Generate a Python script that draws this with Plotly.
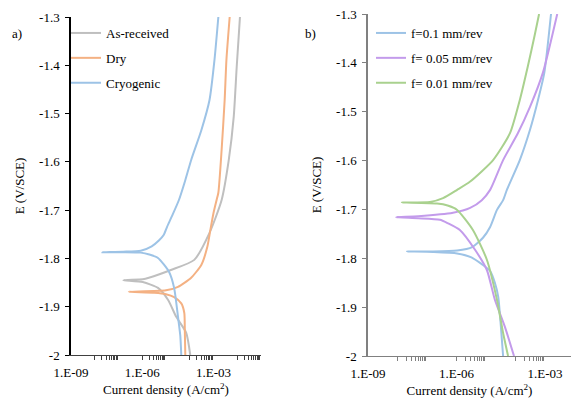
import plotly.graph_objects as go

# ---------------- data (current density A/cm^2, potential V vs SCE) ----------------
# Panel a)
asrec_i = [1.05e-4, 7.1e-5, 2.7e-5, 1.23e-5, 4.6e-6, 1.05e-6, 1.6e-7,
           1.05e-6, 1.9e-6, 1.6e-5, 1.55e-4, 6.8e-4, 2.2e-3, 4.4e-3, 7.1e-3, 9.5e-3, 1.3e-2]
asrec_E = [-2.0, -1.954, -1.921, -1.886, -1.861, -1.849, -1.845,
           -1.843, -1.840, -1.824, -1.803, -1.747, -1.679, -1.596, -1.507, -1.403, -1.3]

dry_i = [6.5e-5, 6.2e-5, 5.9e-5, 4.4e-5, 2.2e-5, 1.0e-5, 3.2e-6, 2.7e-7,
         1.0e-5, 3.2e-5, 1.15e-4, 3.1e-4, 5.5e-4, 7.4e-4, 1.0e-3, 1.35e-3, 1.6e-3,
         2.2e-3, 2.95e-3, 3.5e-3, 4.8e-3]
dry_E = [-2.0, -1.95, -1.913, -1.893, -1.88, -1.874, -1.871, -1.869,
         -1.866, -1.859, -1.840, -1.813, -1.776, -1.741, -1.706, -1.679, -1.664,
         -1.575, -1.472, -1.389, -1.3]

cryo_i = [4.4e-5, 4.0e-5, 3.2e-5, 2.2e-5, 1.35e-5, 4.6e-6, 2.0e-6, 8.7e-7, 1.6e-7, 2.1e-8,
          1.6e-7, 8.7e-7, 2.5e-6, 5.0e-6, 8.1e-6, 1.1e-5, 1.8e-5, 3.5e-5, 6.3e-5,
          1.15e-4, 3.1e-4, 6.8e-4, 1.1e-3, 1.6e-3]
cryo_E = [-2.0, -1.96, -1.921, -1.861, -1.828, -1.799, -1.792, -1.788, -1.787, -1.787,
          -1.786, -1.784, -1.775, -1.763, -1.751, -1.735, -1.712, -1.679, -1.64,
          -1.596, -1.534, -1.472, -1.389, -1.3]

# Panel b)
f01_i = [3.8e-5, 3.2e-5, 2.6e-5, 2.0e-5, 1.38e-5, 7.2e-6, 3.2e-6, 1.05e-6, 1.6e-7, 2.1e-8,
         1.6e-7, 1.05e-6, 3.4e-6, 7.9e-6, 1.38e-5, 2.35e-5, 3.8e-5, 5.1e-5,
         1.4e-4, 3.1e-4, 5.8e-4, 9.5e-4, 1.6e-3]
f01_E = [-2.0, -1.940, -1.879, -1.850, -1.826, -1.812, -1.798, -1.790, -1.787, -1.786,
         -1.786, -1.784, -1.777, -1.758, -1.736, -1.701, -1.681, -1.660,
         -1.599, -1.537, -1.476, -1.42, -1.3]

f005_i = [8.9e-5, 4.4e-5, 2.0e-5, 1.07e-5, 4.3e-6, 1.3e-6, 5.0e-7, 2.75e-7, 5.0e-8, 8.9e-9,
          5.0e-8, 7.6e-7, 2.9e-6, 7.2e-6, 1.38e-5, 3.8e-5, 1.2e-4, 3.1e-4, 8.5e-4, 2.6e-3]
f005_E = [-2.0, -1.941, -1.885, -1.824, -1.783, -1.742, -1.728, -1.721, -1.718, -1.716,
          -1.714, -1.707, -1.697, -1.681, -1.660, -1.599, -1.544, -1.490, -1.42, -1.3]

f001_i = [5.6e-5, 3.8e-5, 2.35e-5, 1.07e-5, 3.6e-6, 1.05e-6, 5.0e-7, 2.2e-7, 1.4e-8,
          1.26e-7, 3.5e-7, 1.05e-6, 2.9e-6, 1.74e-5, 6.5e-5, 1.4e-4, 2.6e-4, 4.6e-4, 6.3e-4]
f001_E = [-2.0, -1.953, -1.885, -1.803, -1.742, -1.701, -1.692, -1.688, -1.686,
          -1.685, -1.677, -1.660, -1.643, -1.599, -1.544, -1.476, -1.408, -1.340, -1.3]

# ---------------- axes ticks ----------------
x_tickvals = [1e-9, 1e-6, 1e-3]
x_ticktext = ["1.E-09", "1.E-06", "1.E-03"]
x_minor = [k * 10.0 ** n for n in (-8, -6, -4, -2) for k in range(1, 10)]
y_tickvals = [-2.0, -1.9, -1.8, -1.7, -1.6, -1.5, -1.4, -1.3]
y_ticktext = ["-2", "-1.9", "-1.8", "-1.7", "-1.6", "-1.5", "-1.4", "-1.3"]

C_GRAY = "#BFBFBF"
C_ORANGE = "#F4B183"
C_BLUE = "#9DC3E6"
C_PURPLE = "#C39BEB"
C_GREEN = "#A9D18E"

FONT = "Liberation Serif, Times New Roman, serif"
W, H = 571, 403

fig = go.Figure()
lw = 2
def ln(c):
    return dict(color=c, width=lw, shape="spline", smoothing=0.6)

fig.add_trace(go.Scatter(x=asrec_i, y=asrec_E, mode="lines", name="As-received",
                         line=ln(C_GRAY), xaxis="x", yaxis="y",
                         legend="legend", legendgroup="a1"))
fig.add_trace(go.Scatter(x=dry_i, y=dry_E, mode="lines", name="Dry",
                         line=ln(C_ORANGE), xaxis="x", yaxis="y",
                         legend="legend", legendgroup="a2"))
fig.add_trace(go.Scatter(x=cryo_i, y=cryo_E, mode="lines", name="Cryogenic",
                         line=ln(C_BLUE), xaxis="x", yaxis="y",
                         legend="legend", legendgroup="a3"))
fig.add_trace(go.Scatter(x=f01_i, y=f01_E, mode="lines", name="f=0.1 mm/rev",
                         line=ln(C_BLUE), xaxis="x2", yaxis="y2",
                         legend="legend2", legendgroup="b1"))
fig.add_trace(go.Scatter(x=f005_i, y=f005_E, mode="lines", name="f= 0.05 mm/rev",
                         line=ln(C_PURPLE), xaxis="x2", yaxis="y2",
                         legend="legend2", legendgroup="b2"))
fig.add_trace(go.Scatter(x=f001_i, y=f001_E, mode="lines", name="f= 0.01 mm/rev",
                         line=ln(C_GREEN), xaxis="x2", yaxis="y2",
                         legend="legend2", legendgroup="b3"))

def xax(domain, rng, color):
    return dict(domain=domain, type="log", range=rng, tickvals=x_tickvals, ticktext=x_ticktext,
                ticks="", ticklabelstandoff=5, showline=True, linecolor=color, linewidth=1.3,
                showgrid=False, zeroline=False, automargin=False,
                minor=dict(ticks="outside", tickmode="array", tickvals=x_minor, ticklen=4,
                           tickcolor=color, tickwidth=1, showgrid=False),
                title=dict(text="Current density (A/cm<sup>2</sup>)", standoff=6,
                           font=dict(family=FONT, size=13, color="black")),
                tickfont=dict(family=FONT, size=13, color="black"))

def yax(domain, anchor, color):
    return dict(domain=domain, anchor=anchor, range=[-2.0, -1.3], tickvals=y_tickvals,
                ticktext=y_ticktext, ticks="outside", ticklen=4, tickcolor=color,
                ticklabelstandoff=3, automargin=False,
                showline=True, linecolor=color, linewidth=1.5, showgrid=False, zeroline=False,
                title=dict(text="E (V/SCE)", standoff=12,
                           font=dict(family=FONT, size=13, color="black")),
                tickfont=dict(family=FONT, size=13, color="black"))

fig.update_layout(
    template="none",
    width=W, height=H, autosize=False,
    margin=dict(l=0, r=0, t=0, b=0, autoexpand=False),
    paper_bgcolor="white", plot_bgcolor="white",
    font=dict(family=FONT, size=13, color="black"),
    xaxis=dict(anchor="y", **xax([71 / W, 261 / W], [-9, -1], "#404040")),
    yaxis=yax([1 - 355 / H, 1 - 17 / H], "x", "#000000"),
    xaxis2=dict(anchor="y2", **xax([368 / W, 1.0], [-9, -9 + (571 - 368) / 29.5], "#808080")),
    yaxis2=yax([1 - 356 / H, 1 - 14 / H], "x2", "#808080"),
    legend=dict(x=66 / W, y=1 - 18 / H, xanchor="left", yanchor="top",
                bgcolor="rgba(0,0,0,0)", borderwidth=0, tracegroupgap=5,
                font=dict(family=FONT, size=13, color="black"), itemwidth=30),
    legend2=dict(x=371 / W, y=1 - 18 / H, xanchor="left", yanchor="top",
                 bgcolor="rgba(0,0,0,0)", borderwidth=0, tracegroupgap=5,
                 font=dict(family=FONT, size=13, color="black"), itemwidth=30),
    annotations=[
        dict(text="a)", x=10 / W, y=1 - 33 / H, xref="paper", yref="paper",
             xanchor="left", yanchor="middle", showarrow=False,
             font=dict(family=FONT, size=13, color="black")),
        dict(text="b)", x=303 / W, y=1 - 33 / H, xref="paper", yref="paper",
             xanchor="left", yanchor="middle", showarrow=False,
             font=dict(family=FONT, size=13, color="black")),
    ],
)

fig.write_html("out.html", config={"displayModeBar": False},
               post_script="document.body.style.margin='0px';")
